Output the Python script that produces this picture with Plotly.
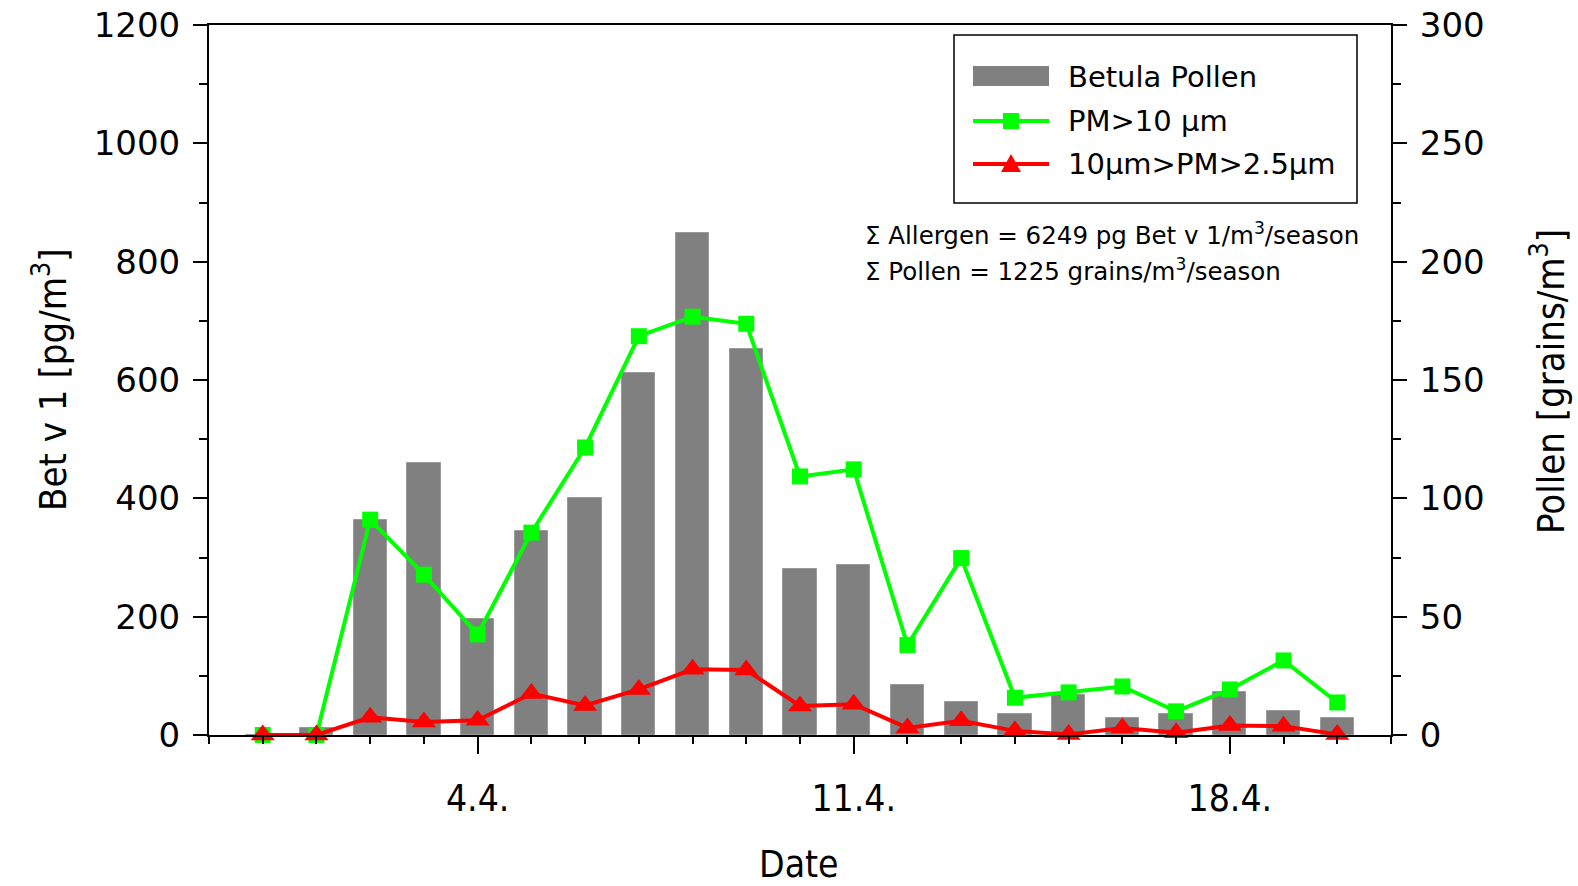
import plotly.graph_objects as go

# Daily samples, 31 March to 20 April
dates = ["31.3.", "1.4.", "2.4.", "3.4.", "4.4.", "5.4.", "6.4.", "7.4.", "8.4.", "9.4.",
         "10.4.", "11.4.", "12.4.", "13.4.", "14.4.", "15.4.", "16.4.", "17.4.", "18.4.",
         "19.4.", "20.4."]
tick_labels = ["4.4.", "11.4.", "18.4."]

# Betula pollen count [grains/m3]
pollen = [0, 3, 91, 115, 49, 86, 100, 153, 212, 163, 70, 72, 21, 14, 9, 17, 7, 9, 18, 10, 7]
# Bet v 1 in coarse fraction PM>10 µm [pg/m3]
bet_pm10 = [0, 0, 364, 271, 170, 342, 486, 674, 707, 695, 437, 449, 152, 299, 63, 72, 82, 40,
            77, 126, 55]
# Bet v 1 in fraction 10 µm > PM > 2.5 µm [pg/m3]
bet_pm25 = [0, 0, 30, 22, 25, 70, 50, 77, 111, 110, 49, 52, 12, 24, 7, 1, 12, 4, 16, 15, 1]

allergen_total = 6249
pollen_total = 1225

x = list(range(len(dates)))
tickvals = [dates.index(t) for t in tick_labels]

W, H = 1578, 886
L, R, T, B = 209, 187, 25, 151
PW, PH = W - L - R, H - T - B


def px(v):
    return (v - L) / PW


def py(v):
    return (H - B - v) / PH


GREEN = "#00ff00"
RED = "#ff0000"
GRAY = "#808080"
SANS = "DejaVu Sans, Verdana, sans-serif"
NARROW = "DejaVu Sans Condensed, Liberation Sans Narrow, sans-serif"
TICK_FONT = dict(family=SANS, size=34, color="black")

fig = go.Figure()

fig.add_trace(go.Bar(
    x=x, y=pollen, yaxis="y", width=0.62, name="Betula Pollen",
    marker=dict(color=GRAY, line=dict(color="#9a9a9a", width=1)),
))
fig.add_trace(go.Scatter(
    x=x, y=bet_pm10, yaxis="y2", mode="lines+markers", name="PM>10 µm",
    line=dict(color=GREEN, width=4), cliponaxis=False,
    marker=dict(symbol="square", size=16, color=GREEN),
))
fig.add_trace(go.Scatter(
    x=x, y=bet_pm25, yaxis="y2", mode="lines+markers", name="10µm>PM>2.5µm",
    line=dict(color=RED, width=4), cliponaxis=False,
    marker=dict(symbol="triangle-up", size=21, color=RED),
))

axis_common = dict(
    showline=True, linecolor="black", linewidth=2, showgrid=False, zeroline=False,
    ticks="outside", tickcolor="black", tickwidth=2, ticklen=14, automargin=False,
)

fig.update_layout(
    width=W, height=H,
    margin=dict(l=L, r=R, t=T, b=B, autoexpand=False),
    plot_bgcolor="white", paper_bgcolor="white",
    showlegend=False,
    bargap=0,
    xaxis=dict(
        **{**axis_common, "ticklen": 17},
        range=[-1, len(dates)],
        tickmode="array", tickvals=tickvals, ticktext=tick_labels,
        tickfont=dict(family=NARROW, size=37, color="black"),
        minor=dict(dtick=1, tick0=0, ticks="outside", ticklen=7, tickwidth=2,
                   tickcolor="black"),
        mirror=True,
        ticklabelstandoff=13,
    ),
    yaxis=dict(
        **axis_common,
        side="right", range=[0, 300], dtick=50, tick0=0,
        tickfont=TICK_FONT,
        minor=dict(dtick=25, ticks="outside", ticklen=8, tickwidth=2, tickcolor="black"),
        ticklabelstandoff=6,
    ),
    yaxis2=dict(
        **axis_common,
        overlaying="y", side="left", range=[0, 1200], dtick=200, tick0=0,
        tickfont=TICK_FONT,
        minor=dict(dtick=100, ticks="outside", ticklen=8, tickwidth=2, tickcolor="black"),
        ticklabelstandoff=6,
    ),
)

# Axis titles and season totals
annotations = [
    dict(text="Bet v 1 [pg/m<sup>3</sup>]", x=px(50), y=py(380), textangle=-90,
         font=dict(family=NARROW, size=38, color="black")),
    dict(text="Pollen [grains/m<sup>3</sup>]", x=px(1548), y=py(382), textangle=-90,
         font=dict(family=NARROW, size=38, color="black")),
    dict(text="Date", x=px(799), y=py(864),
         font=dict(family=NARROW, size=37, color="black")),
    dict(text=f"Σ Allergen = {allergen_total} pg Bet v 1/m<sup>3</sup>/season",
         x=px(863), y=py(234), xanchor="left",
         font=dict(family=SANS, size=24.5, color="black")),
    dict(text=f"Σ Pollen = {pollen_total} grains/m<sup>3</sup>/season",
         x=px(863), y=py(270), xanchor="left",
         font=dict(family=SANS, size=24.5, color="black")),
]
for a in annotations:
    a.setdefault("xanchor", "center")
    a.update(xref="paper", yref="paper", yanchor="middle", showarrow=False)

# Legend box with its keys
shapes = [
    dict(type="rect", x0=px(954), x1=px(1357), y0=py(35), y1=py(203),
         line=dict(color="black", width=1.5), fillcolor="white"),
    dict(type="rect", x0=px(973), x1=px(1049), y0=py(66), y1=py(86),
         line=dict(width=0), fillcolor=GRAY),
    dict(type="line", x0=px(973), x1=px(1049), y0=py(121), y1=py(121),
         line=dict(color=GREEN, width=4)),
    dict(type="rect", x0=px(1003), x1=px(1019), y0=py(113), y1=py(129),
         line=dict(width=0), fillcolor=GREEN),
    dict(type="line", x0=px(973), x1=px(1049), y0=py(164), y1=py(164),
         line=dict(color=RED, width=4)),
    dict(type="path",
         path=f"M {px(1001)},{py(172)} L {px(1021)},{py(172)} L {px(1011)},{py(154)} Z",
         line=dict(width=0), fillcolor=RED),
]
for s in shapes:
    s.update(xref="paper", yref="paper", layer="above")

legend_items = [("Betula Pollen", 77), ("PM>10 µm", 121), ("10µm>PM>2.5µm", 164)]
for label, yy in legend_items:
    annotations.append(dict(
        text=label, x=px(1066), y=py(yy), xref="paper", yref="paper",
        xanchor="left", yanchor="middle", showarrow=False,
        font=dict(family=SANS, size=29, color="black"),
    ))

fig.update_layout(annotations=annotations, shapes=shapes)

fig.write_html("out.html")
